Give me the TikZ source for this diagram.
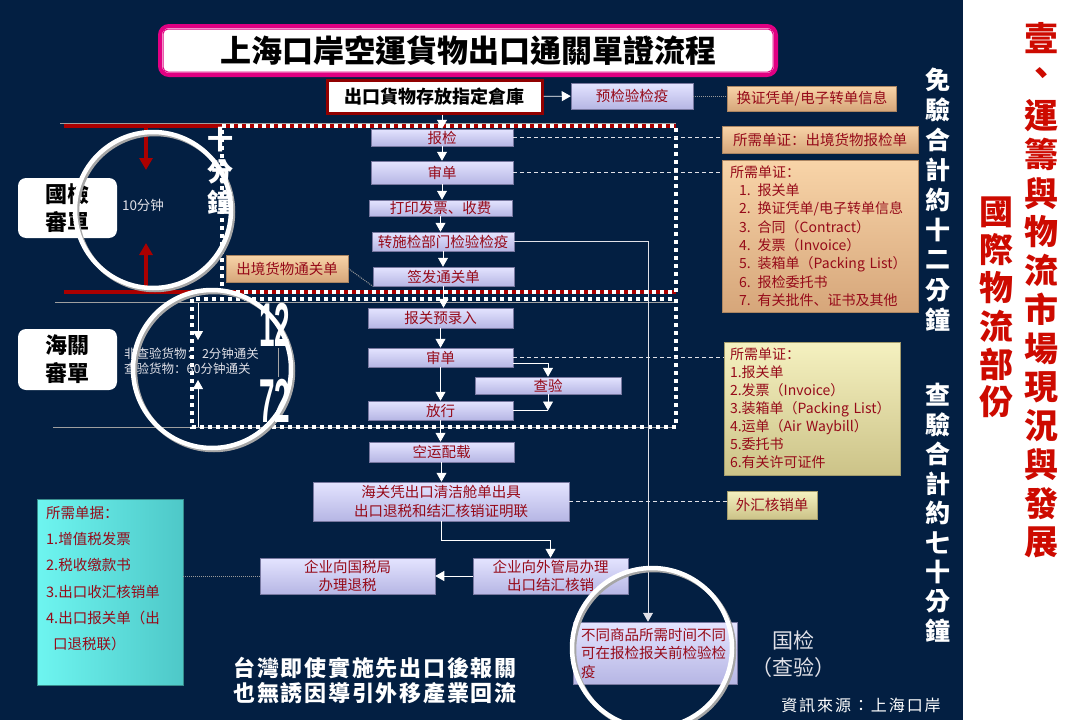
\documentclass[tikz,border=0pt]{standalone}
\usepackage{fontspec}
\setmainfont{Noto Sans CJK SC}
\newfontfamily\tcfont{Noto Sans CJK TC}
\newfontfamily\numfont{Liberation Sans}
\usetikzlibrary{arrows.meta,shadows}
\definecolor{navy}{RGB}{3,31,66}
\definecolor{lavtop}{RGB}{228,228,255}
\definecolor{lavbot}{RGB}{182,182,228}
\definecolor{lavedge}{RGB}{120,120,160}
\definecolor{boxred}{RGB}{150,10,25}
\definecolor{orgtop}{RGB}{248,212,168}
\definecolor{orgbot}{RGB}{214,166,122}
\definecolor{yeltop}{RGB}{245,241,192}
\definecolor{yelbot}{RGB}{204,195,136}
\definecolor{cyanl}{RGB}{110,245,240}
\definecolor{cyanr}{RGB}{78,200,200}
\definecolor{magentab}{RGB}{225,0,130}
\definecolor{darkred}{RGB}{145,0,0}
\definecolor{redline}{RGB}{170,0,0}
\definecolor{colred}{RGB}{205,10,0}
\definecolor{lightgray}{RGB}{225,225,232}
\begin{document}
\begin{tikzpicture}[x=1pt,y=-1pt,>={Triangle[width=10pt,length=9pt]},
  every node/.style={inner sep=0pt},
  flowbox/.style 2 args={draw=lavedge,line width=0.5pt,top color=lavtop,bottom color=lavbot,text=boxred,minimum width=#1,minimum height=#2,font=\fontsize{14.5}{18.5}\selectfont,align=center},
  orgbox/.style 2 args={draw=orgbot!80!black,line width=0.5pt,top color=orgtop,bottom color=orgbot,text=boxred,minimum width=#1,minimum height=#2,font=\fontsize{14.5}{18.3}\selectfont},
  yelbox/.style 2 args={draw=yelbot!80!black,line width=0.5pt,top color=yeltop,bottom color=yelbot,text=boxred,minimum width=#1,minimum height=#2,font=\fontsize{14}{18}\selectfont},
  deskbox/.style={fill=white,rounded corners=8pt,minimum width=99pt,minimum height=60pt,align=center,font=\tcfont\bfseries\fontsize{22}{28}\selectfont},
  flow/.style={->,white,line width=0.8pt},
  link/.style={white,line width=0.8pt},
  dashline/.style={lightgray,line width=0.8pt,dash pattern=on 4pt off 3pt},
  dotline/.style={gray!80,line width=1pt,dash pattern=on 1pt off 1pt},
  guide/.style={gray!75,line width=0.8pt},
  dotframe/.style={white,line width=4pt,dash pattern=on 4pt off 4pt},
  redarrow/.style={-{Triangle[width=13pt,length=12pt]},redline,line width=4pt},
  ring/.style={white,line width=4.5pt},
  ringshade/.style={gray!70,line width=4.5pt},
  vtext/.style={text=white,font=\tcfont\bfseries\fontsize{25}{25}\selectfont},
  redtext/.style={text=colred,font=\tcfont\bfseries\fontsize{34}{34}\selectfont},
  bignum/.style={text=white,font=\numfont\bfseries\fontsize{62}{62}\selectfont}]
\useasboundingbox (0,0) rectangle (1080,720);
\fill[navy] (0,0) rectangle (963,720);
\fill[white] (963,0) rectangle (1080,720);

% frames
\draw[guide] (60,123) -- (676,123);
\draw[guide] (55,302) -- (676,302);
\draw[guide] (53,427) -- (676,427);
\draw[redline,line width=4pt] (64,126) -- (676,126);
\draw[redline,line width=4pt] (64,292) -- (676,292);
\draw[dotframe] (222,126) -- (676,126) -- (676,292) -- (222,292) -- cycle;
\draw[dotframe] (192,299) rectangle (676,427);

% title
\node[draw=magentab,line width=4pt,fill=white,rounded corners=9pt,minimum width=616pt,minimum height=49pt,font=\tcfont\bfseries\fontsize{31}{31}\selectfont] (title) at (468,50.5) {上海口岸空運貨物出口通關單證流程};
\draw[magentab,line width=1pt,rounded corners=5pt] ([shift={(5pt,-5pt)}]title.north west) rectangle ([shift={(-5pt,5pt)}]title.south east);

\node[draw=darkred,line width=3pt,fill=white,minimum width=215pt,minimum height=33pt,drop shadow={shadow xshift=2pt,shadow yshift=-2pt,fill=gray},font=\tcfont\bfseries\fontsize{18}{18}\selectfont] (store) at (434.5,96.5) {出口貨物存放指定倉庫};

% flow
\node[flowbox={122pt}{26pt}] (precheck) at (632,96) {预检验检疫};
\node[flowbox={142pt}{17pt}] (inspect) at (442,137.5) {报检};
\node[flowbox={142pt}{23pt}] (check1) at (442,172.5) {审单};
\node[flowbox={143pt}{16pt}] (invoice) at (440.5,208) {打印发票、收费};
\node[flowbox={142pt}{19pt}] (transfer) at (443,241.5) {转施检部门检验检疫};
\node[flowbox={141pt}{19pt}] (issue) at (443.5,276.5) {签发通关单};
\node[flowbox={145pt}{20pt}] (entry) at (440.5,318) {报关预录入};
\node[flowbox={145pt}{19pt}] (check2) at (440.5,357.5) {审单};
\node[flowbox={146pt}{17pt}] (examine) at (548,385.5) {查验};
\node[flowbox={145pt}{19pt}] (release) at (440.5,410.5) {放行};
\node[flowbox={145pt}{20pt}] (loading) at (441.5,452) {空运配载};
\node[flowbox={256pt}{39pt}] (customs) at (441,501.5) {海关凭出口清洁舱单出具\\出口退税和结汇核销证明联};
\node[flowbox={155pt}{36pt}] (fxoffice) at (550.5,576) {企业向外管局办理\\出口结汇核销};
\node[flowbox={175pt}{36pt}] (taxoffice) at (347.5,576) {企业向国税局\\办理退税};
\node[flowbox={164pt}{62pt},align=left,text width=148pt] (varies) at (655,653) {不同商品所需时间不同\\可在报检报关前检验检\\疫};

% documents
\node[orgbox={169pt}{25pt}] (swapinfo) at (812,98.5) {换证凭单/电子转单信息};
\node[orgbox={196pt}{27pt}] (inspdoc) at (820,139.5) {所需单证：出境货物报检单};
\node[orgbox={196pt}{152pt},align=left,text width=180pt,font=\fontsize{14}{18.3}\selectfont] (docs1) at (820,236) {所需单证：\\\hspace*{9pt}1. 报关单\\\hspace*{9pt}2. 换证凭单/电子转单信息\\\hspace*{9pt}3. 合同（Contract）\\\hspace*{9pt}4. 发票（Invoice）\\\hspace*{9pt}5. 装箱单（Packing List）\\\hspace*{9pt}6. 报检委托书\\\hspace*{9pt}7. 有关批件、证书及其他};
\node[orgbox={122pt}{27pt}] (clearance) at (287,268.5) {出境货物通关单};
\node[yelbox={176pt}{133pt},align=left,text width=164pt] (docs2) at (812,408.5) {所需单证：\\1.报关单\\2.发票（Invoice）\\3.装箱单（Packing List）\\4.运单（Air Waybill）\\5.委托书\\6.有关许可证件};
\node[yelbox={90pt}{28pt},font=\fontsize{14.5}{18}\selectfont] (fxform) at (772,505) {外汇核销单};
\node[draw=cyanr!70!black,line width=0.5pt,left color=cyanl,right color=cyanr,minimum width=146pt,minimum height=186pt] (taxdocs) at (110,592) {};
\node[anchor=north west,text=boxred,align=left,font=\fontsize{14.5}{26.3}\selectfont] (taxlist) at (46,506) {所需单据：\\1.增值税发票\\2.税收缴款书\\3.出口收汇核销单\\4.出口报关单（出\\\hspace*{7pt}口退税联）};

% connectors
\draw[flow] (store) -- (precheck);
\draw[dotline] (precheck) -- (precheck -| swapinfo.west);
\draw[flow] (store.south -| inspect) -- (inspect);
\foreach \a/\b in {inspect/check1,check1/invoice,invoice/transfer,transfer/issue,issue/entry,entry/check2,check2/release,release/loading,loading/customs}
  \draw[flow] (\a) -- (\a |- \b.north);
\draw[flow] ([yshift=4pt]check2.south east) -| (examine.north);
\draw[flow] (examine.south) -- (examine.south |- release.east);
\draw[link] (examine.south |- release.east) -- (release.east);
\draw[flow] (customs.south) -- ++(0,19) -| (fxoffice.north);
\draw[flow] (fxoffice) -- (taxoffice);
\draw[dotline] (taxoffice.west) -- (taxoffice.west -| taxdocs.east);
\draw[flow,lightgray] (transfer.east) -| ([xshift=-7pt]varies.north);
\draw[dashline] (inspect.east) -- (inspect.east -| inspdoc.west);
\draw[dashline] (check1.east) -- (check1.east -| docs1.west);
\draw[dashline] (check2.east) -- (check2.east -| docs2.west);
\draw[dashline] (customs.east) -- (customs.east -| fxform.west);
\draw[dotline] (clearance.east) -- (issue.south west);

% left side
\node[deskbox] (ciqlabel) at (67.5,208) {國檢\\審單};
\node[deskbox,minimum height=61pt] (cuslabel) at (67.5,359.5) {海關\\審單};
\draw[redarrow] (146,126) -- (146,170);
\draw[redarrow] (146,292) -- (146,243);
\draw[flow] (198,303) -- (198,340);
\draw[flow] (198,427) -- (198,380);
\node[text=lightgray,font=\fontsize{13.5}{13.5}\selectfont] (tenmin) at (143,205) {10分钟};
\node[anchor=west,text=lightgray,align=left,font=\fontsize{12.5}{15.5}\selectfont] (clrtime) at (124,361) {非查验货物：\ 2分钟通关\\查验货物：60分钟通关};

% circles
\draw[ringshade] (155,212) circle[radius=78pt];
\draw[ring] (153,210) circle[radius=78pt];
\draw[ringshade] (214,371) circle[radius=79pt];
\draw[ring] (212,369) circle[radius=79pt];
\draw[ringshade] (654,650) circle[radius=80pt];
\draw[ring] (652,648) circle[radius=80pt];

\foreach \c/\y [count=\i] in {十/140,分/172,鐘/202}
  \node[vtext,font=\tcfont\bfseries\fontsize{26}{26}\selectfont] (tm\i) at (220,\y) {\c};
\node[bignum] (n12) at (275,325) {\scalebox{0.45}[1]{12}};
\node[bignum] (n72) at (275,401) {\scalebox{0.45}[1]{72}};
\draw[gray!70,line width=0.8pt] (278,348) -- (278,377);

% notes
\node[text=lightgray,align=center,font=\fontsize{21}{27}\selectfont] (cnlabel) at (793,654) {国检\\（查验）};
\node[text=white,font=\tcfont\fontsize{16}{16}\selectfont\addfontfeature{LetterSpace=12}] (source) at (861,705) {資訊來源：上海口岸};
\node[text=white,align=center,font=\tcfont\bfseries\fontsize{22}{25}\selectfont\addfontfeature{LetterSpace=8}] (note) at (375,680.5) {台灣即使實施先出口後報關\\也無誘因導引外移產業回流};

\foreach \c [count=\i] in {免,驗,合,計,約,十,二,分,鐘}
  \node[vtext] (fr\i) at (938,{80+30*(\i-1)}) {\c};
\foreach \c [count=\i] in {查,驗,合,計,約,七,十,分,鐘}
  \node[vtext] (ex\i) at (938,{395+29.5*(\i-1)}) {\c};

\foreach \c [count=\i] in {壹,、,運,籌,與,物,流,市,場,現,況,與,發,展}
  \node[redtext] (hd\i) at (1041,{38+38.8*(\i-1)}) {\c};
\foreach \c [count=\i] in {國,際,物,流,部,份}
  \node[redtext] (sub\i) at (996,{212+38*(\i-1)}) {\c};
\end{tikzpicture}
\end{document}
